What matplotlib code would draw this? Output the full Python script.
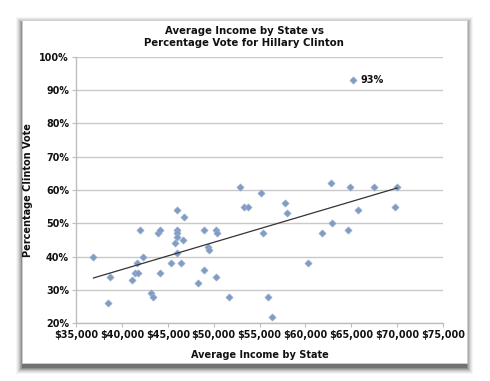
import matplotlib
matplotlib.use("Agg")
import matplotlib.pyplot as plt
import matplotlib.patches as mpatches
from matplotlib.ticker import FuncFormatter, MultipleLocator
import numpy as np

income = [36900, 38700, 38500, 41100, 41400, 41800, 41700, 42000, 42300, 43200,
          43400, 43900, 44200, 44200, 45300, 45800, 46000, 46000, 46000, 46000,
          46000, 46400, 46700, 46800, 48300, 48900, 49000, 49400, 49500, 50300,
          50400, 50300, 51700, 52900, 53300, 53700, 55200, 55400, 55900, 56400,
          57800, 58000, 60300, 61800, 62800, 62900, 64700, 64900, 65700, 67500,
          69800, 70000, 65200]
vote = [40, 34, 26, 33, 35, 35, 38, 48, 40, 29,
        28, 47, 48, 35, 38, 44, 54, 48, 47, 46,
        41, 38, 45, 52, 32, 48, 36, 43, 42, 48,
        47, 34, 28, 61, 55, 55, 59, 47, 28, 22,
        56, 53, 38, 47, 62, 50, 48, 61, 54, 61,
        55, 61, 93]
annot_label = "93%"

W, H = 490, 381
fig = plt.figure(figsize=(W / 100, H / 100), dpi=100)
fig.patch.set_facecolor("white")

# panel with shadow
px0, py0, px1, py1 = 22, 20, 467, 363
for i, a in enumerate([0.04, 0.05, 0.07, 0.09, 0.12, 0.16, 0.2]):
    off = 7 - i
    sh = mpatches.Rectangle(((px0 - off + 1) / W, 1 - (py1 + off + 4) / H),
                            (px1 - px0 + 2 * off - 2) / W, (py1 - py0 + 2 * off) / H,
                            transform=fig.transFigure, facecolor="black", alpha=a,
                            edgecolor="none", zorder=0)
    fig.add_artist(sh)
panel = mpatches.Rectangle((px0 / W, 1 - py1 / H), (px1 - px0) / W, (py1 - py0) / H,
                           transform=fig.transFigure, facecolor="white",
                           edgecolor="#d0d0d0", linewidth=0.6, zorder=1)
fig.add_artist(panel)

ax = fig.add_axes([76 / W, 1 - 323.3 / H, 367 / W, 266.6 / H])
ax.set_zorder(2)
ax.patch.set_alpha(0)

ax.scatter(income, vote, marker="D", s=14, color="#819cc2", edgecolors="#9fb4d3",
           linewidths=0.4, zorder=3, clip_on=False)

coef = np.polyfit(income, vote, 1)
xs = np.array([min(income), max(income)])
ax.plot(xs, np.polyval(coef, xs), color="#333333", linewidth=0.9, zorder=4)

ax.annotate(annot_label, (income[-1], vote[-1]), xytext=(5, 0), textcoords="offset points",
            va="center", ha="left", fontsize=7, fontweight="bold", color="#111111")

ax.set_xlim(35000, 75000)
ax.set_ylim(20, 100)
ax.xaxis.set_major_locator(MultipleLocator(5000))
ax.yaxis.set_major_locator(MultipleLocator(10))
ax.xaxis.set_major_formatter(FuncFormatter(lambda v, p: "${:,.0f}".format(v)))
ax.yaxis.set_major_formatter(FuncFormatter(lambda v, p: "{:.0f}%".format(v)))
ax.grid(axis="y", color="#c9c9c9", linewidth=1.0)
ax.set_axisbelow(True)
for s in ["top", "right"]:
    ax.spines[s].set_visible(False)
for s in ["left", "bottom"]:
    ax.spines[s].set_color("#bdbdbd")
    ax.spines[s].set_linewidth(1.0)
ax.tick_params(axis="both", colors="#bdbdbd", length=3, width=0.8, labelsize=6.9,
               labelcolor="#111111", pad=2)
for lab in ax.get_xticklabels() + ax.get_yticklabels():
    lab.set_fontweight("bold")

ax.set_xlabel("Average Income by State", fontsize=7, fontweight="bold", labelpad=7,
              color="#111111")
ax.set_ylabel("Percentage Clinton Vote", fontsize=7, fontweight="bold",
              color="#111111")
ax.yaxis.set_label_coords((33 - 76) / 367, 0.5)
fig.text(244 / W, 1 - 37 / H, "Average Income by State vs\nPercentage Vote for Hillary Clinton",
         ha="center", va="center", fontsize=7.3, fontweight="bold", color="#111111",
         linespacing=1.2, zorder=3)

fig.savefig("out.png", dpi=100)
